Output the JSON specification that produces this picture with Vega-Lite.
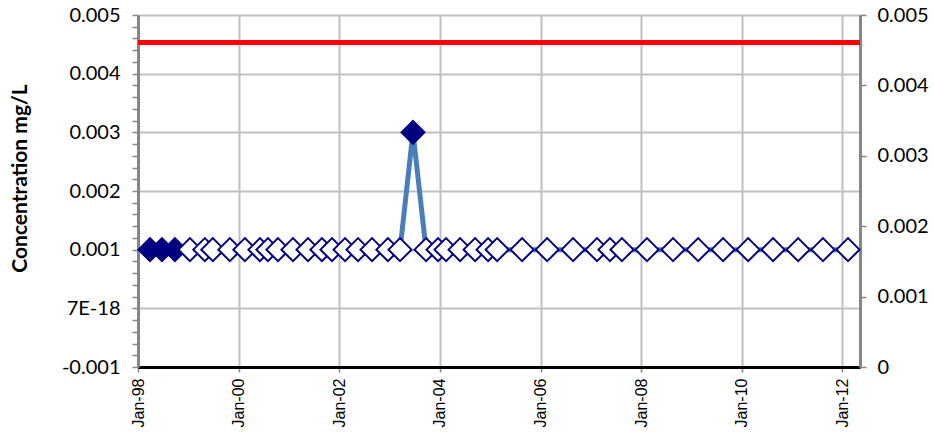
{
  "$schema": "https://vega.github.io/schema/vega-lite/v6.json",
  "width": 722,
  "height": 352,
  "autosize": {"type": "none"},
  "padding": {"left": 138, "top": 15, "right": 74, "bottom": 68},
  "background": "white",
  "config": {"view": {"stroke": null}},
  "data": {"values": [
    {"date": "1998-03-29", "value": 0.001, "type": "detect"},
    {"date": "1998-06-24", "value": 0.001, "type": "detect"},
    {"date": "1998-09-26", "value": 0.001, "type": "detect"},
    {"date": "1999-01-13", "value": 0.001, "type": "nd"},
    {"date": "1999-05-01", "value": 0.001, "type": "nd"},
    {"date": "1999-06-28", "value": 0.001, "type": "nd"},
    {"date": "1999-10-30", "value": 0.001, "type": "nd"},
    {"date": "2000-02-16", "value": 0.001, "type": "nd"},
    {"date": "2000-06-04", "value": 0.001, "type": "nd"},
    {"date": "2000-08-01", "value": 0.001, "type": "nd"},
    {"date": "2000-10-13", "value": 0.001, "type": "nd"},
    {"date": "2001-01-30", "value": 0.001, "type": "nd"},
    {"date": "2001-05-19", "value": 0.001, "type": "nd"},
    {"date": "2001-08-28", "value": 0.001, "type": "nd"},
    {"date": "2001-11-09", "value": 0.001, "type": "nd"},
    {"date": "2002-02-12", "value": 0.001, "type": "nd"},
    {"date": "2002-05-17", "value": 0.001, "type": "nd"},
    {"date": "2002-08-27", "value": 0.001, "type": "nd"},
    {"date": "2002-12-20", "value": 0.001, "type": "nd"},
    {"date": "2003-03-18", "value": 0.001, "type": "nd"},
    {"date": "2003-06-20", "value": 0.003, "type": "detect"},
    {"date": "2003-09-23", "value": 0.001, "type": "nd"},
    {"date": "2003-12-19", "value": 0.001, "type": "nd"},
    {"date": "2004-02-15", "value": 0.001, "type": "nd"},
    {"date": "2004-05-27", "value": 0.001, "type": "nd"},
    {"date": "2004-09-13", "value": 0.001, "type": "nd"},
    {"date": "2004-12-16", "value": 0.001, "type": "nd"},
    {"date": "2005-02-20", "value": 0.001, "type": "nd"},
    {"date": "2005-08-20", "value": 0.001, "type": "nd"},
    {"date": "2006-02-18", "value": 0.001, "type": "nd"},
    {"date": "2006-08-25", "value": 0.001, "type": "nd"},
    {"date": "2007-02-15", "value": 0.001, "type": "nd"},
    {"date": "2007-05-20", "value": 0.001, "type": "nd"},
    {"date": "2007-08-15", "value": 0.001, "type": "nd"},
    {"date": "2008-02-13", "value": 0.001, "type": "nd"},
    {"date": "2008-08-20", "value": 0.001, "type": "nd"},
    {"date": "2009-02-18", "value": 0.001, "type": "nd"},
    {"date": "2009-08-18", "value": 0.001, "type": "nd"},
    {"date": "2010-02-16", "value": 0.001, "type": "nd"},
    {"date": "2010-08-16", "value": 0.001, "type": "nd"},
    {"date": "2011-02-14", "value": 0.001, "type": "nd"},
    {"date": "2011-08-13", "value": 0.001, "type": "nd"},
    {"date": "2012-02-11", "value": 0.001, "type": "nd"}
  ]},
  "layer": [
    {
      "encoding": {
        "x": {
          "field": "date", "type": "temporal",
          "scale": {"domain": [{"year": 1998, "month": 1, "date": 1}, {"year": 2012, "month": 5, "date": 8}]},
          "axis": {
            "title": null,
            "values": [
              {"year": 1998, "month": 1, "date": 1},
              {"year": 2000, "month": 1, "date": 1},
              {"year": 2002, "month": 1, "date": 1},
              {"year": 2004, "month": 1, "date": 1},
              {"year": 2006, "month": 1, "date": 1},
              {"year": 2008, "month": 1, "date": 1},
              {"year": 2010, "month": 1, "date": 1},
              {"year": 2012, "month": 1, "date": 1}
            ],
            "format": "%b-%y",
            "labelAngle": 270,
            "labelFont": "Liberation Sans",
            "labelFontSize": 16,
            "labelColor": "black",
            "labelPadding": 6,
            "labelOverlap": false,
            "labelFlush": false,
            "domainColor": "black",
            "domainWidth": 3,
            "tickColor": "#868686",
            "tickSize": 5,
            "tickWidth": 1.5,
            "grid": true,
            "gridColor": "#C0C0C0",
            "gridWidth": 2
          }
        },
        "y": {
          "field": "value", "type": "quantitative",
          "scale": {"domain": [-0.001, 0.005], "nice": false, "zero": false},
          "axis": {
            "orient": "left",
            "title": "Concentration mg/L",
            "titleFont": "Lato",
            "titleFontSize": 21,
            "titleFontWeight": "bold",
            "titleColor": "black",
            "titleAngle": -90,
            "titleAlign": "center",
            "titleBaseline": "middle",
            "titleX": -118,
            "titleY": 163,
            "values": [-0.001, -0.0008, -0.0006, -0.0004, -0.0002, 0, 0.0002, 0.0004, 0.0006, 0.0008, 0.001, 0.0012, 0.0014, 0.0016, 0.0018, 0.002, 0.0022, 0.0024, 0.0026, 0.0028, 0.003, 0.0032, 0.0034, 0.0036, 0.0038, 0.004, 0.0042, 0.0044, 0.0046, 0.0048, 0.005],
            "labelExpr": "abs(datum.value*1000 - round(datum.value*1000)) > 0.01 ? '' : (abs(datum.value) < 1e-9 ? '7E-18' : (datum.value < 0 ? '-' + format(abs(datum.value), '.3f') : format(datum.value, '.3f')))",
            "labelFont": "Lato",
            "labelFontSize": 20,
            "labelColor": "black",
            "labelPadding": 12,
            "labelOverlap": false,
            "labelFlush": false,
            "domainColor": "#868686",
            "domainWidth": 3,
            "tickColor": "#868686",
            "tickSize": 6,
            "tickWidth": 1.5,
            "grid": true,
            "gridColor": "#C0C0C0",
            "gridWidth": 2,
            "gridOpacity": {"condition": {"test": "abs(datum.value*1000 - round(datum.value*1000)) > 0.01", "value": 0}, "value": 1}
          }
        }
      },
      "layer": [
        {
          "mark": {"type": "line", "color": "#4A7EBB", "strokeWidth": 5}
        },
        {
          "transform": [{"filter": "datum.type == 'detect'"}],
          "mark": {"type": "point", "shape": "diamond", "filled": true, "size": 529, "color": "#000080", "stroke": "#000080", "strokeWidth": 2, "opacity": 1}
        },
        {
          "transform": [{"filter": "datum.type == 'nd'"}],
          "mark": {"type": "point", "shape": "diamond", "filled": true, "size": 529, "fill": "white", "stroke": "#000080", "strokeWidth": 2, "opacity": 1}
        }
      ]
    },
    {
      "data": {"values": [{"limit": 0.00461}]},
      "mark": {"type": "rule", "color": "#FF0000", "strokeWidth": 5},
      "encoding": {
        "y": {
          "field": "limit", "type": "quantitative",
          "scale": {"domain": [0, 0.005], "nice": false, "zero": false},
          "axis": {
            "orient": "right",
            "title": null,
            "values": [0, 0.001, 0.002, 0.003, 0.004, 0.005],
            "labelExpr": "datum.value == 0 ? '0' : format(datum.value, '.3f')",
            "labelFont": "Lato",
            "labelFontSize": 20,
            "labelColor": "black",
            "labelPadding": 11,
            "labelOverlap": false,
            "labelFlush": false,
            "domainColor": "#868686",
            "domainWidth": 3,
            "tickColor": "#868686",
            "tickSize": 6,
            "tickWidth": 1.5,
            "grid": false
          }
        }
      }
    }
  ],
  "resolve": {"scale": {"y": "independent"}, "axis": {"y": "independent"}}
}
